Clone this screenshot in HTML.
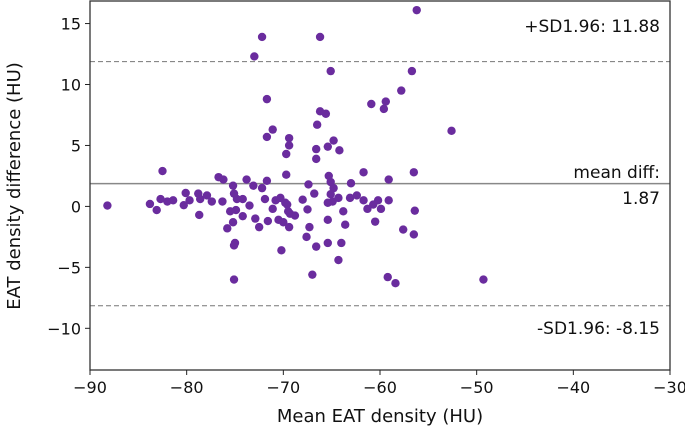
<!DOCTYPE html>
<html><head><meta charset="utf-8"><style>
html,body{margin:0;padding:0;background:#fff;}
svg{display:block;font-family:"DejaVu Sans","Liberation Sans",sans-serif;}
</style></head><body>
<svg id="chart" width="685" height="433"></svg>
<script>
const xs = [-88.2,-82.5,-83.8,-83.1,-82.7,-82.0,-81.4,-80.1,-80.3,-79.7,-78.8,-78.6,-77.9,-77.4,-78.7,-76.7,-76.2,-76.3,-75.2,-75.1,-74.8,-74.2,-75.5,-74.9,-74.2,-73.5,-73.8,-73.1,-72.2,-71.7,-71.9,-71.1,-70.8,-70.3,-72.9,-71.6,-70.5,-70.0,-75.2,-75.8,-72.5,-75.0,-75.1,-70.2,-75.1,-69.7,-69.7,-69.6,-69.5,-69.4,-56.2,-72.2,-66.2,-73.0,-65.1,-56.7,-57.8,-71.7,-60.9,-59.4,-59.6,-66.2,-65.6,-66.5,-71.1,-71.7,-69.4,-69.4,-64.8,-66.6,-65.4,-64.2,-66.6,-65.3,-65.1,-61.7,-59.1,-56.5,-67.4,-64.8,-63.0,-66.8,-65.1,-69.8,-68.0,-65.4,-64.9,-64.3,-63.1,-62.4,-61.7,-60.2,-59.1,-60.7,-61.3,-59.9,-67.5,-69.3,-68.8,-63.8,-56.4,-65.4,-63.6,-60.5,-67.3,-67.6,-57.6,-56.5,-66.6,-65.4,-64.0,-64.3,-67.0,-59.2,-58.4,-52.6,-49.3];
const ys = [0.07,2.9,0.2,-0.3,0.6,0.4,0.5,1.1,0.1,0.5,1.05,0.6,0.9,0.4,-0.7,2.4,2.2,0.4,1.7,1.05,0.6,0.6,-0.4,-0.3,-0.8,0.07,2.2,1.7,1.5,2.1,0.6,-0.2,0.5,0.7,-1.0,-1.2,-1.1,-1.3,-1.3,-1.8,-1.7,-3.0,-3.2,-3.6,-6.0,4.3,2.6,0.15,-0.4,-1.7,16.1,13.9,13.9,12.3,11.1,11.1,9.5,8.8,8.4,8.6,8.0,7.8,7.6,6.7,6.3,5.7,5.6,5.0,5.4,4.7,4.9,4.6,3.9,2.5,2.0,2.8,2.2,2.8,1.8,1.5,1.9,1.05,1.0,0.3,0.55,0.3,0.4,0.7,0.7,0.9,0.5,0.5,0.5,0.15,-0.2,-0.2,-0.25,-0.6,-0.75,-0.4,-0.35,-1.1,-1.5,-1.25,-1.7,-2.5,-1.9,-2.3,-3.3,-3.0,-3.0,-4.4,-5.6,-5.8,-6.3,6.2,-6.0];
const meanDiff = 1.87;
const upperSD = 11.88;
const lowerSD = -8.15;
const xTicks = [-90,-80,-70,-60,-50,-40,-30];
const yTicks = [15,10,5,0,-5,-10];

const L=90,R=670,T=1,B=370;
const xMin=-90,xMax=-30,yMin=-13.42,yMax=16.85;
const X=v=>L+(v-xMin)/(xMax-xMin)*(R-L);
const Y=v=>B-(v-yMin)/(yMax-yMin)*(B-T);
const NS="http://www.w3.org/2000/svg";
const svg=document.getElementById('chart');
function mk(tag,attrs,parent){const e=document.createElementNS(NS,tag);for(const k in attrs)e.setAttribute(k,attrs[k]);(parent||svg).appendChild(e);return e;}

let ln;
ln=mk('line',{x1:L,x2:R,y1:Y(upperSD),y2:Y(upperSD),stroke:'#777','stroke-width':1,'stroke-dasharray':'5,3'});


ln=mk('line',{x1:L,x2:R,y1:Y(meanDiff),y2:Y(meanDiff),stroke:'#888','stroke-width':1.5});


ln=mk('line',{x1:L,x2:R,y1:Y(lowerSD),y2:Y(lowerSD),stroke:'#777','stroke-width':1,'stroke-dasharray':'5,3'});



for(let i=0;i<xs.length;i++){
  const c=mk('circle',{cx:X(xs[i]),cy:Y(ys[i]),r:4.2,fill:'#6a2c9e'});
  
  
}

const fr=mk('rect',{x:L,y:T,width:R-L,height:B-T,fill:'none',stroke:'#333','stroke-width':1.3});



xTicks.forEach(v=>{
  const t=mk('line',{x1:X(v),x2:X(v),y1:B,y2:B+5,stroke:'#222'});
  
  
  const tx=mk('text',{x:X(v),y:B+23,'text-anchor':'middle','font-size':16,fill:'#111'});
  tx.textContent=String(v).replace('-','\u2212');
  
  
});
yTicks.forEach(v=>{
  const t=mk('line',{x1:L-5,x2:L,y1:Y(v),y2:Y(v),stroke:'#222'});
  
  
  const tx=mk('text',{x:L-9,y:Y(v)+6,'text-anchor':'end','font-size':16,fill:'#111'});
  tx.textContent=String(v).replace('-','\u2212');
  
  
});

let t;
t=mk('text',{x:(L+R)/2,y:422,'text-anchor':'middle','font-size':18,fill:'#111'});
t.textContent='Mean EAT density (HU)';


t=mk('text',{x:0,y:0,'text-anchor':'middle','font-size':18,fill:'#111',transform:'translate(20,186) rotate(-90)'});
t.textContent='EAT density difference (HU)';


t=mk('text',{x:660,y:32,'text-anchor':'end','font-size':17,fill:'#111'});
t.textContent='+SD1.96: '+upperSD.toFixed(2);


t=mk('text',{x:660,y:178,'text-anchor':'end','font-size':17,fill:'#111'});
t.textContent='mean diff:';


t=mk('text',{x:660,y:204,'text-anchor':'end','font-size':17,fill:'#111'});
t.textContent=meanDiff.toFixed(2);


t=mk('text',{x:660,y:334,'text-anchor':'end','font-size':17,fill:'#111'});
t.textContent='-SD1.96: '+lowerSD.toFixed(2);


</script>
</body></html>
